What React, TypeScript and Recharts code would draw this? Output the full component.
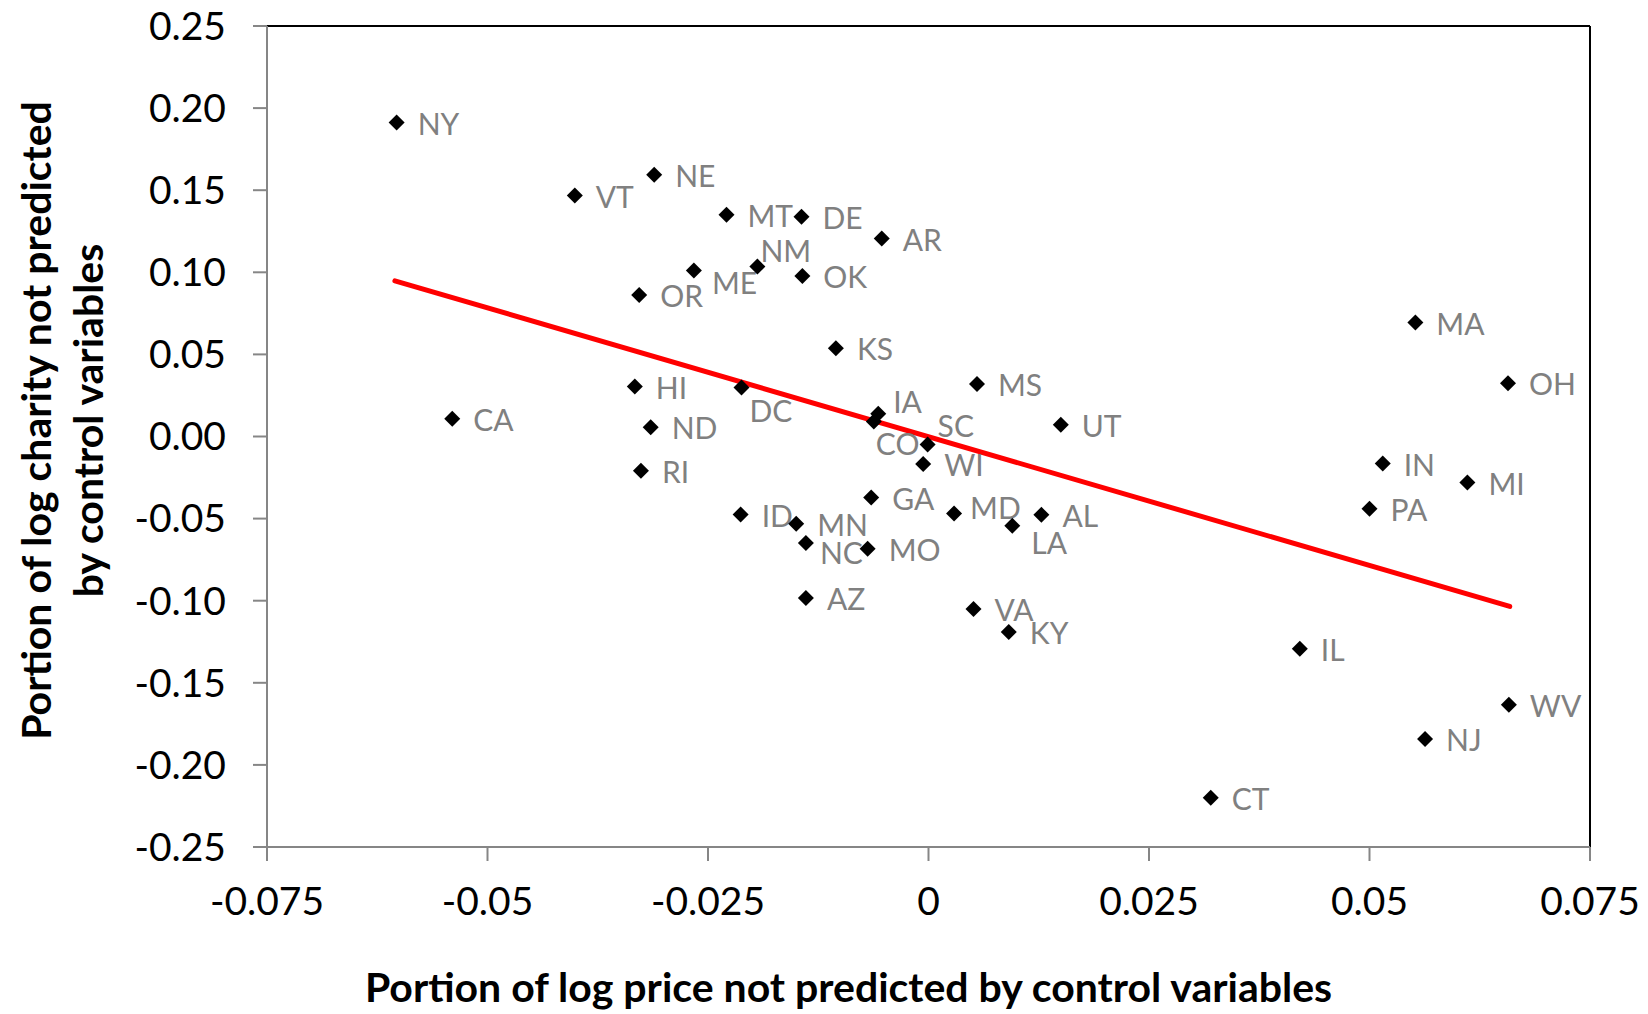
import React from "react";
import { ScatterChart, Scatter, XAxis, YAxis, ReferenceLine, Label } from "recharts";

// residuals
const states = [
  "NY", "VT", "NE", "ME", "OR", "HI", "CA", "ND", "RI", "MT", "DE", "AR", "NM", "OK",
  "KS", "MS", "DC", "IA", "CO", "UT", "SC", "WI", "GA", "ID", "MN", "MD", "AL", "LA",
  "NC", "MO", "AZ", "VA", "KY", "MA", "OH", "IN", "MI", "PA", "IL", "WV", "NJ", "CT",
];

const priceResid = [
  -0.0603, -0.0401, -0.0311, -0.0266, -0.0328, -0.0333, -0.054, -0.0315, -0.0326, -0.0229,
  -0.0144, -0.0053, -0.0194, -0.0143, -0.0105, 0.0055, -0.0212, -0.0057, -0.0062, 0.015,
  -0.0001, -0.0006, -0.0065, -0.0213, -0.015, 0.0029, 0.0128, 0.0095, -0.0139, -0.0069,
  -0.0139, 0.0051, 0.0091, 0.0552, 0.0657, 0.0515, 0.0611, 0.05, 0.0421, 0.0658, 0.0563, 0.032,
];

const charityResid = [
  0.1912, 0.1468, 0.1594, 0.1011, 0.0861, 0.0305, 0.0108, 0.0057, -0.0209, 0.135,
  0.1338, 0.1206, 0.1035, 0.0977, 0.0538, 0.0319, 0.0298, 0.0138, 0.0091, 0.0071,
  -0.0049, -0.0168, -0.0371, -0.0475, -0.0532, -0.0469, -0.0477, -0.0544, -0.0649, -0.0684,
  -0.0984, -0.1051, -0.1191, 0.0694, 0.0325, -0.0164, -0.028, -0.044, -0.1293, -0.1634, -0.1843, -0.22,
];

// fitted line end points
const trendX = [-0.0605, 0.0659];
const trendY = [0.0948, -0.1035];

const xTicks = [-0.075, -0.05, -0.025, 0, 0.025, 0.05, 0.075];
const xTickLabels = ["-0.075", "-0.05", "-0.025", "0", "0.025", "0.05", "0.075"];
const yTicks = [-0.25, -0.2, -0.15, -0.1, -0.05, 0, 0.05, 0.1, 0.15, 0.2, 0.25];
const yTickLabels = ["-0.25", "-0.20", "-0.15", "-0.10", "-0.05", "0.00", "0.05", "0.10", "0.15", "0.20", "0.25"];

const data = states.map((s, i) => ({ state: s, x: priceResid[i], y: charityResid[i] }));

// labels that were dragged away from the default right-hand spot
const labelNudge: Record<string, { dx: number; dy: number }> = {
  NM: { dx: 3, dy: -15 },
  ME: { dx: 18, dy: 13 },
  DC: { dx: 8, dy: 24 },
  IA: { dx: 15, dy: -12 },
  CO: { dx: 2, dy: 23 },
  SC: { dx: 10, dy: -18 },
  NC: { dx: 14, dy: 10 },
  LA: { dx: 19, dy: 17 },
  MD: { dx: 16, dy: -5 },
};

const FONT = "Lato, 'Noto Sans', sans-serif";
const AXIS_GREY = "#868686";

function Point(props: any) {
  const { cx, cy, payload } = props;
  const r = 8;
  const n = labelNudge[payload.state] || { dx: 21, dy: 1.5 };
  return (
    <g>
      <path d={`M${cx},${cy - r}L${cx + r},${cy}L${cx},${cy + r}L${cx - r},${cy}Z`} fill="#000" />
      <text
        x={cx + n.dx}
        y={cy + n.dy + 10.8}
        fill="#808080"
        fontSize={30}
        fontFamily={FONT}
      >
        {payload.state}
      </text>
    </g>
  );
}

function XTitle(props: any) {
  const { viewBox } = props;
  return (
    <text
      x={viewBox.x + viewBox.width / 2 - 80}
      y={viewBox.y + 155}
      textAnchor="middle"
      fontSize={41}
      fontWeight="bold"
      fontFamily={FONT}
      fill="#000"
    >
      Portion of log price not predicted by control variables
    </text>
  );
}

function YTitle(props: any) {
  const { viewBox } = props;
  const cy = viewBox.y + viewBox.height / 2 - 16;
  const lines = ["Portion of log charity not predicted", "by control variables"];
  return (
    <g>
      {lines.map((t, i) => {
        const x = viewBox.x + 51 + i * 52;
        return (
          <text
            key={i}
            x={x}
            y={cy}
            transform={`rotate(-90 ${x} ${cy})`}
            textAnchor="middle"
            fontSize={41}
            fontWeight="bold"
            fontFamily={FONT}
            fill="#000"
          >
            {t}
          </text>
        );
      })}
    </g>
  );
}

export default function App() {
  return (
    <div style={{ position: "absolute", left: 0, top: 0, background: "#fff" }}>
      <ScatterChart width={1648} height={1014} margin={{ top: 26, right: 58, bottom: 0, left: 0 }}>
        <XAxis
          type="number"
          dataKey="x"
          domain={[-0.075, 0.075]}
          ticks={xTicks}
          interval={0}
          tickFormatter={(v: number) => xTickLabels[xTicks.indexOf(v)] ?? String(v)}
          height={167}
          axisLine={{ stroke: AXIS_GREY, strokeWidth: 2 }}
          tickLine={{ stroke: AXIS_GREY, strokeWidth: 2 }}
          tickSize={14}
          tickMargin={26}
          tick={{ fill: "#000", fontSize: 39, fontFamily: FONT }}
        >
          <Label content={XTitle} />
        </XAxis>
        <YAxis
          type="number"
          dataKey="y"
          domain={[-0.25, 0.25]}
          ticks={yTicks}
          interval={0}
          tickFormatter={(v: number) => {
            const i = yTicks.findIndex((t) => Math.abs(t - v) < 1e-9);
            return i >= 0 ? yTickLabels[i] : String(v);
          }}
          width={267}
          axisLine={{ stroke: AXIS_GREY, strokeWidth: 2 }}
          tickLine={{ stroke: AXIS_GREY, strokeWidth: 2 }}
          tickSize={14}
          tickMargin={27}
          tick={{ fill: "#000", fontSize: 39, fontFamily: FONT }}
        >
          <Label content={YTitle} />
        </YAxis>
        <ReferenceLine y={0.25} stroke="#000" strokeWidth={2} />
        <ReferenceLine x={0.075} stroke="#000" strokeWidth={2} />
        <Scatter data={data} shape={Point} isAnimationActive={false} />
        <ReferenceLine
          segment={[
            { x: trendX[0], y: trendY[0] },
            { x: trendX[1], y: trendY[1] },
          ]}
          stroke="#ff0000"
          strokeWidth={5}
          strokeLinecap="round"
        />
      </ScatterChart>
    </div>
  );
}
